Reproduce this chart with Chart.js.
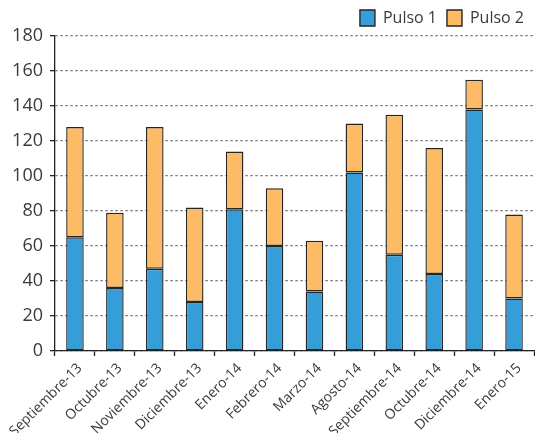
<!DOCTYPE html>
<html>
<head>
<meta charset="utf-8">
<script src="https://cdn.jsdelivr.net/npm/chart.js@4.4.1/dist/chart.umd.min.js"></script>
<style>
  html, body { margin: 0; padding: 0; background: #ffffff; }
  #wrap { width: 535px; height: 433px; }
</style>
</head>
<body>
<div id="wrap"><canvas id="c" width="535" height="433"></canvas></div>
<script>
// Monthly categories
const months = [
  'Septiembre-13', 'Octubre-13', 'Noviembre-13', 'Diciembre-13',
  'Enero-14', 'Febrero-14', 'Marzo-14', 'Agosto-14',
  'Septiembre-14', 'Octubre-14', 'Diciembre-14', 'Enero-15'
];
// Stacked series
const pulso1 = [65, 36, 47, 28, 81, 60, 34, 102, 55, 44, 138, 30];
const pulso2 = [63, 43, 81, 54, 33, 33, 29, 28, 80, 72, 17, 48];
// Value axis
const yMin = 0, yMax = 180, yStep = 20;

const textColor = '#3a3a3a';
const fontFamily = "'Open Sans', 'Noto Sans', sans-serif";

new Chart(document.getElementById('c'), {
  type: 'bar',
  data: {
    labels: months,
    datasets: [
      {
        label: 'Pulso 1',
        data: pulso1,
        backgroundColor: '#359dd7',
        borderColor: '#262626',
        borderWidth: 1.4,
        borderSkipped: false,
        barPercentage: 0.44,
        categoryPercentage: 1
      },
      {
        label: 'Pulso 2',
        data: pulso2,
        backgroundColor: '#fdbb65',
        borderColor: '#262626',
        borderWidth: 1.4,
        borderSkipped: false,
        barPercentage: 0.44,
        categoryPercentage: 1
      }
    ]
  },
  options: {
    responsive: false,
    animation: false,
    layout: { padding: { left: 0, right: 1, top: 0, bottom: 0 } },
    plugins: {
      tooltip: { enabled: false },
      legend: {
        position: 'top',
        align: 'end',
        labels: {
          boxWidth: 15,
          boxHeight: 16,
          padding: 10,
          color: textColor,
          font: { family: fontFamily, size: 16 }
        }
      }
    },
    scales: {
      x: {
        stacked: true,
        grid: {
          offset: true,
          drawOnChartArea: false,
          drawTicks: true,
          tickLength: 5,
          tickColor: '#222222',
          tickWidth: 1.3
        },
        border: { display: true, color: '#222222', width: 1.3 },
        ticks: {
          color: textColor,
          font: { family: fontFamily, size: 14 },
          maxRotation: 45,
          minRotation: 45,
          autoSkip: false,
          padding: 4,
          labelOffset: 5
        },
        afterFit(scale) { scale.height = 82; }
      },
      y: {
        stacked: true,
        min: yMin,
        max: yMax,
        grid: {
          color: '#7a7a7a',
          lineWidth: 1.3,
          drawTicks: true,
          tickLength: 5,
          tickColor: '#222222',
          tickWidth: 1.3,
          tickBorderDash: []
        },
        border: { display: true, color: '#222222', width: 1.3, dash: [2.5, 2.5] },
        ticks: {
          stepSize: yStep,
          color: textColor,
          font: { family: fontFamily, size: 18 },
          padding: 7
        },
        afterFit(scale) { scale.width = 55; }
      }
    }
  }
});
</script>
</body>
</html>
